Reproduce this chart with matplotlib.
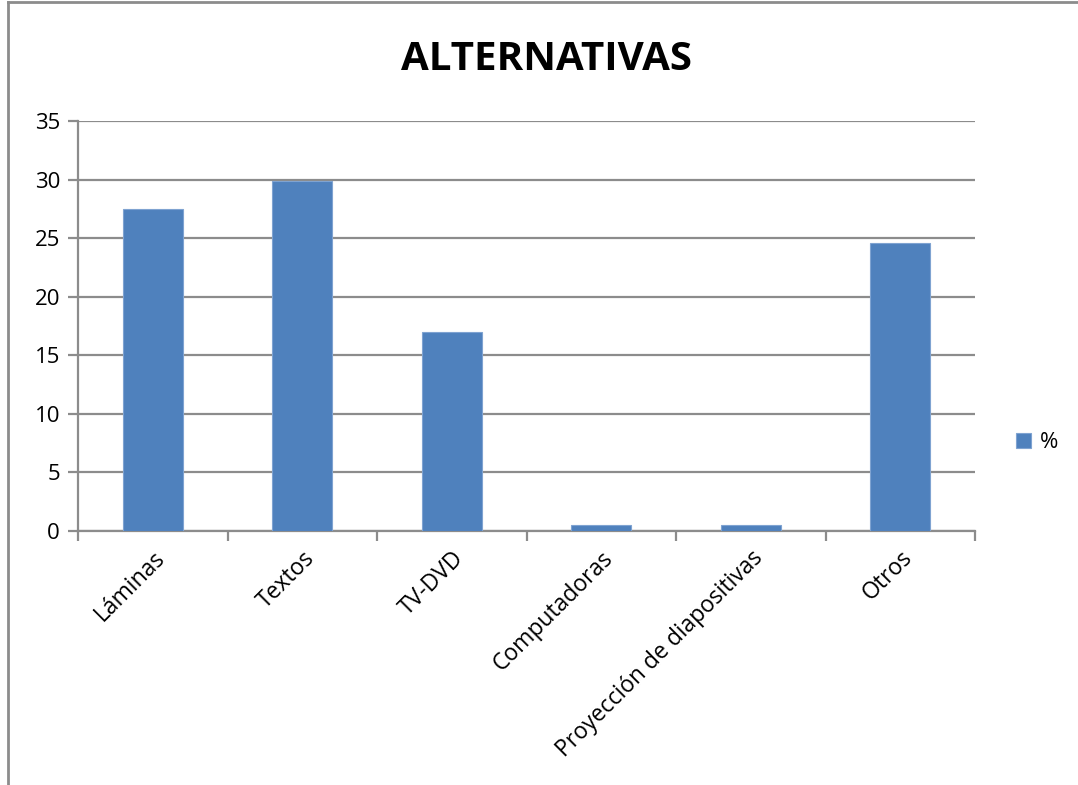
import matplotlib

matplotlib.use("Agg")

import matplotlib.pyplot as plt
from matplotlib.lines import Line2D

plt.rcParams["font.family"] = ["Open Sans", "DejaVu Sans"]

categories = [
    "Láminas",
    "Textos",
    "TV-DVD",
    "Computadoras",
    "Proyección de diapositivas",
    "Otros",
]
porcentajes = [27.5, 29.9, 17.0, 0.5, 0.5, 24.6]
y_ticks = [0, 5, 10, 15, 20, 25, 30, 35]

BAR_COLOR = "#4F81BD"
GRID_COLOR = "#8C8C8C"

fig = plt.figure(figsize=(10.78, 7.85), dpi=100)
ax = fig.add_axes([0.0724, 0.3236, 0.8321, 0.5223])

positions = list(range(len(categories)))
ax.bar(positions, porcentajes, width=0.4, color=BAR_COLOR,
       edgecolor="#7FA3D1", linewidth=0.8, label="%", zorder=3)

ax.set_xlim(-0.5, len(categories) - 0.5)
ax.set_ylim(0, 35)
ax.set_yticks(y_ticks)
ax.set_yticklabels([str(v) for v in y_ticks], fontsize=16)
ax.yaxis.grid(True, color=GRID_COLOR, linewidth=1.6, zorder=0)
ax.set_axisbelow(True)

# category labels at centres, tick marks at the boundaries
ax.set_xticks(positions)
ax.set_xticklabels(categories, rotation=45, ha="right",
                   rotation_mode="anchor", fontsize=16.5)
ax.set_xticks([p - 0.5 for p in positions] + [len(categories) - 0.5], minor=True)
ax.tick_params(axis="x", which="major", length=0, pad=11)
ax.tick_params(axis="x", which="minor", length=7, width=1.6, color=GRID_COLOR)
ax.tick_params(axis="y", length=7, width=1.6, color=GRID_COLOR, pad=6)

for side in ("top", "right"):
    ax.spines[side].set_visible(False)
for side in ("left", "bottom"):
    ax.spines[side].set_color(GRID_COLOR)
    ax.spines[side].set_linewidth(1.6)

fig.text(0.507, 0.924, "ALTERNATIVAS", ha="center", va="center",
         fontsize=29, fontweight="bold")

ax.legend(loc="center left", bbox_to_anchor=(1.023, 0.215), frameon=False,
          fontsize=16, handlelength=0.7, handleheight=0.7,
          handletextpad=0.4)

# chart frame, clipped at the right and bottom
fig.add_artist(Line2D([0.0075, 1.0], [0.9975, 0.9975],
                      transform=fig.transFigure, color=GRID_COLOR, linewidth=2))
fig.add_artist(Line2D([0.0075, 0.0075], [0.0, 0.9975],
                      transform=fig.transFigure, color=GRID_COLOR, linewidth=2))

fig.savefig("out.png", dpi=100)
plt.close(fig)
